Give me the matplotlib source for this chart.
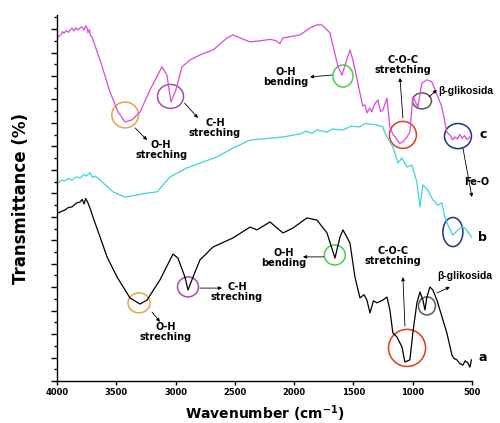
import matplotlib
matplotlib.use("Agg")
import matplotlib.pyplot as plt
from matplotlib.patches import Ellipse

# ---- FTIR spectra (wavenumber in cm^-1, transmittance in offset units) ----
wn_c = [3995, 3970, 3955, 3943, 3925, 3905, 3893, 3875, 3860, 3845, 3830, 3808,
        3790, 3774, 3760, 3749, 3741, 3730, 3720, 3707, 3639, 3555, 3487, 3428,
        3369, 3301, 3217, 3116, 3074, 3040, 2998, 2947, 2880, 2795, 2685, 2567,
        2516, 2372, 2200, 2150, 2120, 2094, 1950, 1866, 1807, 1765, 1697, 1629,
        1595, 1562, 1528, 1503, 1444, 1420, 1402, 1385, 1360, 1343, 1320, 1292,
        1270, 1250, 1216, 1191, 1165, 1140, 1110, 1081, 1050, 1022, 997, 954,
        921, 878, 836, 752, 710, 680, 660, 642, 620, 600, 580, 560, 540, 515]
t_c = [146.6, 147.5, 148.9, 148.2, 149.4, 148.6, 149.6, 150.4, 149.2, 150.6, 149.6, 150.5,
       151.0, 149.6, 151.4, 150.5, 148.4, 149.8, 147.4, 146.6, 136.8, 123.2, 114.7, 110.4,
       111.3, 114.7, 124.1, 133.9, 130.4, 118.9, 124.1, 133.9, 136.8, 139.0, 141.1, 146.2,
       147.5, 144.5, 145.6, 145.0, 143.8, 146.2, 147.5, 150.5, 151.8, 151.8, 148.4, 133.9,
       130.4, 136.0, 141.1, 136.8, 122.8, 117.2, 117.7, 114.3, 116.4, 114.7, 118.0, 119.8,
       114.9, 115.5, 120.6, 108.3, 105.0, 103.6, 101.3, 101.9, 103.8, 106.1, 121.1, 116.8,
       127.0, 128.4, 127.5, 116.8, 106.1, 104.6, 102.8, 104.0, 103.2, 105.1, 103.4, 104.6,
       102.9, 104.0]

wn_b = [3995, 3965, 3935, 3905, 3876, 3840, 3808, 3774, 3757, 3724, 3700, 3682,
        3639, 3529, 3428, 3242, 3158, 3048, 2906, 2653, 2516, 2372, 2094, 1950,
        1900, 1850, 1807, 1722, 1680, 1587, 1520, 1444, 1400, 1300, 1250, 1233,
        1166, 1123, 1089, 1047, 1005, 963, 937, 912, 870, 828, 786, 752, 727,
        701, 659, 617, 583, 557, 532, 502]
t_b = [84.4, 85.6, 85.3, 86.3, 85.7, 87.0, 86.5, 88.1, 87.4, 88.7, 86.6, 87.4,
       85.7, 80.6, 78.4, 80.1, 80.6, 87.0, 90.8, 95.5, 99.3, 102.7, 104.0, 105.3,
       106.5, 105.6, 107.0, 106.1, 107.4, 107.0, 108.6, 108.3, 109.8, 109.1, 108.3, 105.7,
       99.8, 92.9, 95.1, 91.2, 92.1, 84.8, 74.2, 83.6, 81.4, 77.2, 75.0, 75.9, 69.9,
       66.5, 62.2, 64.4, 65.6, 65.2, 63.5, 61.4]

wn_a = [3995, 3965, 3935, 3905, 3876, 3840, 3808, 3790, 3774, 3760, 3741, 3720,
        3699, 3639, 3580, 3495, 3386, 3301, 3242, 3133, 3023, 2981, 2922, 2896,
        2854, 2795, 2685, 2516, 2372, 2313, 2204, 2094, 2010, 1892, 1807, 1722,
        1655, 1612, 1587, 1528, 1486, 1444, 1410, 1385, 1359, 1330, 1300, 1250,
        1216, 1191, 1166, 1132, 1089, 1064, 1022, 997, 963, 937, 912, 895, 878,
        853, 828, 794, 710, 667, 650, 625, 600, 574, 555, 532, 515, 502]
t_a = [71.6, 72.3, 72.9, 74.0, 74.2, 75.8, 76.3, 77.4, 75.5, 77.8, 75.9, 73.2,
       69.9, 61.4, 52.9, 44.3, 35.4, 32.8, 34.5, 43.1, 54.1, 52.4, 44.3, 38.8,
       44.3, 51.6, 57.1, 61.0, 65.6, 64.4, 67.8, 63.1, 65.2, 69.5, 68.6, 63.1,
       52.4, 61.4, 64.4, 58.8, 44.3, 35.4, 36.8, 34.5, 29.0, 34.2, 33.3, 34.5,
       35.8, 30.3, 20.5, 18.8, 14.5, 8.1, 9.0, 20.5, 33.3, 37.9, 34.5, 30.3, 35.8,
       40.1, 38.8, 34.5, 20.5, 11.1, 9.6, 9.0, 7.4, 6.8, 8.6, 7.7, 5.9, 9.0]

sample_labels = ["a", "b", "c"]
label_pos = [(406, 10.2), (406, 61.0), (406, 104.9)]

c_mag = "#DD48DD"
c_cyan = "#3DD3DF"

fig = plt.figure(figsize=(5.0, 4.23), dpi=100)
ax = fig.add_axes([0.1146, 0.0993, 0.8288, 0.8652])

ax.plot(wn_a, t_a, color="black", lw=0.9)
ax.plot(wn_b, t_b, color=c_cyan, lw=0.9)
ax.plot(wn_c, t_c, color=c_mag, lw=0.9)

ax.set_xlim(4000, 500)
ax.set_ylim(0, 156)
ax.set_xticks([4000, 3500, 3000, 2500, 2000, 1500, 1000, 500])
ax.set_yticks(range(0, 160, 10))
ax.set_yticks(range(5, 160, 10), minor=True)
ax.set_yticklabels([])
ax.spines["top"].set_visible(False)
ax.spines["right"].set_visible(False)
for s in ("left", "bottom"):
    ax.spines[s].set_linewidth(1.0)
ax.tick_params(axis="x", direction="out", length=3, width=1, pad=2, labelsize=6)
ax.tick_params(axis="y", which="major", direction="out", length=4, width=1)
ax.tick_params(axis="y", which="minor", direction="out", length=2.5, width=1)
for lab in ax.get_xticklabels():
    lab.set_fontweight("bold")

ax.set_xlabel("Wavenumber (cm$^{\\mathbf{-1}}$)", fontsize=10, fontweight="bold", labelpad=5)
ax.set_ylabel("Transmittance (%)", fontsize=12, fontweight="bold", labelpad=12)

# ---- band markers: (centre, width, height, colour) ----
circles = [
    ((3427, 113.4), 225, 11.0, "#E3A547"),
    ((3044, 121.3), 220, 10.2, "#A24FAA"),
    ((1587, 130.0), 169, 9.4, "#4FCB4F"),
    ((1081, 104.9), 228, 11.5, "#E23A22"),
    ((920, 119.4), 160, 6.8, "#5A5A5A"),
    ((616, 104.4), 228, 10.7, "#23308E"),
    ((659, 63.5), 169, 12.4, "#23308E"),
    ((3310, 33.3), 186, 8.5, "#E3A547"),
    ((2896, 40.1), 177, 8.5, "#A24FAA"),
    ((1656, 53.7), 177, 8.5, "#4FCB4F"),
    ((1046, 14.1), 313, 15.8, "#E23A22"),
    ((878, 32.0), 144, 7.7, "#5A5A5A"),
]
for (cx, cy), w, h, col in circles:
    ax.add_patch(Ellipse((cx, cy), w, h, fill=False, edgecolor=col, lw=1.1, clip_on=False))

# ---- annotations: (text, text position, arrow tail, arrow head) ----
notes = [
    ("O-H\nstreching", (3123, 98.5), (3343, 107.9), (3242, 102.7)),
    ("C-H\nstreching", (2668, 107.9), (2925, 118.5), (2812, 112.1)),
    ("O-H\nbending", (2070, 129.6), (1680, 130.4), (1866, 129.6)),
    ("C-O-C\nstretching", (1081, 134.7), (1081, 112.1), (1106, 129.2)),
    ("Fe-O", (457, 84.8), (574, 99.3), (498, 78.4)),
    ("O-H\nstreching", (3082, 20.9), (3200, 29.4), (3133, 25.2)),
    ("C-H\nstreching", (2482, 37.9), (2795, 39.6), (2609, 39.6)),
    ("O-H\nbending", (2085, 52.4), (1747, 52.9), (1925, 52.9)),
    ("C-O-C\nstretching", (1165, 53.3), (1064, 23.4), (1081, 44.3)),
]
for txt, tpos, tail, head in notes:
    ax.text(tpos[0], tpos[1], txt, ha="center", va="center", fontsize=7,
            fontweight="bold", linespacing=0.95, clip_on=False)
    ax.annotate("", xy=head, xytext=tail, annotation_clip=False,
                arrowprops=dict(arrowstyle="-|>", lw=0.6, color="black",
                                mutation_scale=5, shrinkA=0, shrinkB=0))

# beta-glycosidic band labels
beta = [((786, 123.6), (861, 121.1), (794, 124.1), "left"),
        ((557, 44.8), (794, 37.5), (684, 40.1), "center")]
for tpos, tail, head, ha in beta:
    ax.text(tpos[0], tpos[1], "β-glikosida", ha=ha, va="center", fontsize=7.5,
            fontweight="bold", family="Liberation Sans", clip_on=False)
    ax.annotate("", xy=head, xytext=tail, annotation_clip=False,
                arrowprops=dict(arrowstyle="-|>", lw=0.6, color="black",
                                mutation_scale=5, shrinkA=0, shrinkB=0))

for lab, (x, y) in zip(sample_labels, label_pos):
    ax.text(x, y, lab, ha="center", va="center", fontsize=9, fontweight="bold",
            clip_on=False)

fig.savefig("out.png", dpi=100)
